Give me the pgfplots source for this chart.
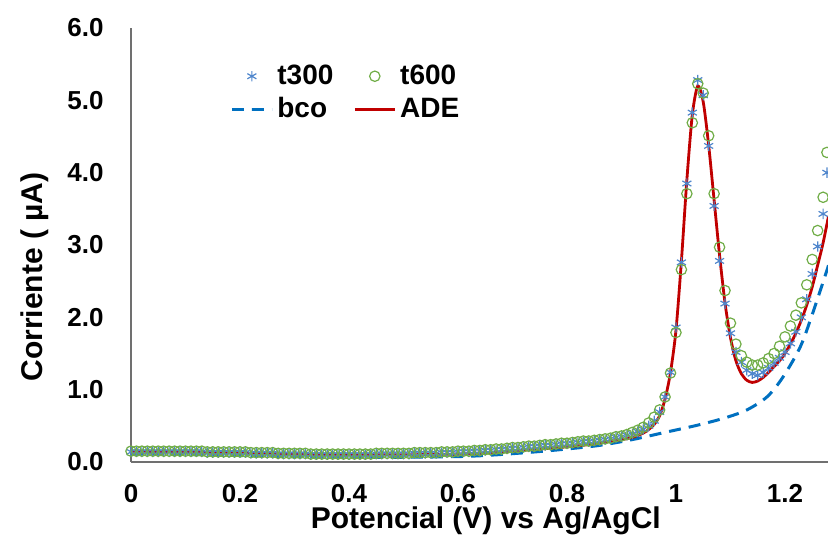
\documentclass[border=0pt]{standalone}
\usepackage{pgfplots}
\usepackage{pgfplotstable}
\pgfplotsset{compat=1.18}
\usepackage{fontspec}
\setmainfont{Liberation Sans}
\definecolor{cT}{HTML}{4F86CC}
\definecolor{cS}{HTML}{70AD47}
\definecolor{cB}{HTML}{0070C0}
\definecolor{cA}{HTML}{C00000}
\definecolor{cAx}{HTML}{707070}

\pgfplotstableread{
x t300 t600
0.00 0.14 0.15
0.01 0.14 0.15
0.02 0.14 0.15
0.03 0.14 0.15
0.04 0.14 0.15
0.05 0.14 0.15
0.06 0.14 0.15
0.07 0.14 0.15
0.08 0.14 0.15
0.09 0.14 0.15
0.10 0.14 0.15
0.11 0.14 0.15
0.12 0.14 0.15
0.13 0.14 0.15
0.14 0.13 0.14
0.15 0.13 0.14
0.16 0.13 0.14
0.17 0.13 0.14
0.18 0.13 0.14
0.19 0.13 0.14
0.20 0.13 0.14
0.21 0.13 0.14
0.22 0.12 0.13
0.23 0.12 0.13
0.24 0.12 0.13
0.25 0.12 0.13
0.26 0.12 0.13
0.27 0.11 0.12
0.28 0.11 0.12
0.29 0.11 0.12
0.30 0.11 0.12
0.31 0.11 0.12
0.32 0.11 0.12
0.33 0.10 0.11
0.34 0.10 0.11
0.35 0.10 0.11
0.36 0.10 0.11
0.37 0.10 0.11
0.38 0.10 0.11
0.39 0.10 0.11
0.40 0.10 0.11
0.41 0.10 0.11
0.42 0.10 0.11
0.43 0.10 0.11
0.44 0.10 0.11
0.45 0.11 0.12
0.46 0.11 0.12
0.47 0.11 0.12
0.48 0.11 0.12
0.49 0.11 0.12
0.50 0.11 0.12
0.51 0.11 0.12
0.52 0.12 0.13
0.53 0.12 0.13
0.54 0.12 0.13
0.55 0.12 0.13
0.56 0.12 0.13
0.57 0.13 0.14
0.58 0.13 0.14
0.59 0.13 0.14
0.60 0.14 0.15
0.61 0.14 0.15
0.62 0.14 0.15
0.63 0.15 0.16
0.64 0.15 0.16
0.65 0.16 0.17
0.66 0.16 0.17
0.67 0.17 0.18
0.68 0.17 0.18
0.69 0.18 0.19
0.70 0.19 0.20
0.71 0.19 0.20
0.72 0.20 0.21
0.73 0.21 0.22
0.74 0.21 0.22
0.75 0.22 0.23
0.76 0.23 0.24
0.77 0.23 0.24
0.78 0.24 0.25
0.79 0.25 0.26
0.80 0.25 0.26
0.81 0.26 0.27
0.82 0.27 0.28
0.83 0.28 0.29
0.84 0.28 0.29
0.85 0.29 0.30
0.86 0.30 0.31
0.87 0.31 0.32
0.88 0.32 0.33
0.89 0.34 0.35
0.90 0.35 0.36
0.91 0.37 0.38
0.92 0.39 0.41
0.93 0.42 0.44
0.94 0.45 0.48
0.95 0.50 0.54
0.96 0.57 0.62
0.97 0.69 0.72
0.98 0.90 0.90
0.99 1.24 1.23
1.00 1.86 1.79
1.01 2.76 2.66
1.02 3.85 3.71
1.03 4.83 4.69
1.04 5.28 5.23
1.05 5.07 5.10
1.06 4.37 4.51
1.07 3.54 3.71
1.08 2.78 2.97
1.09 2.19 2.37
1.10 1.78 1.92
1.11 1.52 1.63
1.12 1.38 1.47
1.13 1.27 1.38
1.14 1.22 1.34
1.15 1.20 1.34
1.16 1.24 1.37
1.17 1.30 1.43
1.18 1.37 1.50
1.19 1.44 1.60
1.20 1.52 1.73
1.21 1.64 1.88
1.22 1.80 2.03
1.23 2.00 2.20
1.24 2.25 2.45
1.25 2.60 2.80
1.26 2.98 3.20
1.27 3.43 3.66
1.277 4.00 4.28
}\markers

\pgfplotstableread{
x y
0.00 0.15
0.10 0.14
0.20 0.125
0.30 0.11
0.40 0.10
0.50 0.10
0.60 0.11
0.65 0.125
0.70 0.15
0.75 0.18
0.80 0.21
0.85 0.25
0.90 0.31
0.92 0.34
0.94 0.40
0.95 0.45
0.96 0.52
0.97 0.64
0.98 0.87
0.99 1.24
1.00 1.82
1.01 2.78
1.02 3.90
1.03 4.80
1.04 5.20
1.05 4.98
1.06 4.38
1.07 3.62
1.08 2.86
1.09 2.20
1.10 1.72
1.11 1.40
1.12 1.22
1.13 1.13
1.14 1.10
1.15 1.12
1.16 1.17
1.17 1.24
1.18 1.32
1.19 1.40
1.20 1.50
1.21 1.63
1.22 1.78
1.23 1.96
1.24 2.17
1.25 2.42
1.26 2.72
1.27 3.03
1.28 3.40
}\ade

\pgfplotstableread{
x y
0.00 0.11
0.10 0.105
0.20 0.09
0.30 0.075
0.40 0.065
0.50 0.065
0.60 0.075
0.65 0.09
0.70 0.115
0.75 0.145
0.80 0.18
0.86 0.23
0.92 0.31
0.98 0.41
1.04 0.51
1.09 0.61
1.13 0.72
1.167 0.90
1.196 1.17
1.228 1.59
1.251 2.06
1.28 2.72
}\bco

\begin{document}
\begin{tikzpicture}
\begin{axis}[
  name=ax,
  scale only axis,
  width=348.5pt, height=217pt,
  xmin=0, xmax=1.279, ymin=0, ymax=6,
  axis x line*=bottom, axis y line*=left,
  axis line style={draw=cAx, line width=0.75pt, -},
  major tick length=0pt,
  xtick={0,0.2,0.4,0.6,0.8,1,1.2},
  xticklabels={0,0.2,0.4,0.6,0.8,1,1.2},
  ytick={0,1,2,3,4,5,6},
  yticklabels={0.0,1.0,2.0,3.0,4.0,5.0,6.0},
  tick label style={font=\fontsize{13}{15}\selectfont\bfseries},
  xticklabel style={inner sep=0pt, anchor=north, yshift=-11pt},
  yticklabel style={inner sep=0pt, anchor=east, xshift=-13.5pt},
  xlabel={Potencial (V) vs Ag/AgCl},
  ylabel={Corriente ( µA)},
  label style={font=\fontsize{15}{18}\selectfont\bfseries},
  xlabel style={at={(axis description cs:0.509,-0.136)}, anchor=center},
  ylabel style={at={(axis description cs:-0.1377,0.426)}, anchor=center},
  legend columns=2,
  legend cell align=left,
  legend style={at={(axis description cs:0.142,0.925)}, anchor=north west,
    draw=none, fill=none, inner sep=0pt,
    font=\fontsize{14}{16}\selectfont\bfseries,
    row sep=1pt,
    /tikz/every even column/.append style={column sep=8pt},
    nodes={inner sep=2pt}},
  legend image code/.code={\draw[mark repeat=2,mark phase=2,#1] plot coordinates {(0pt,0pt) (10pt,0pt) (20pt,0pt)};},
]
\addplot[only marks, mark=asterisk, mark size=2.6pt, draw=cT, mark options={line width=0.6pt}] table[x=x,y=t300] {\markers};
\addlegendentry{t300}
\addplot[only marks, mark=o, mark size=2.6pt, draw=cS, mark options={line width=0.6pt}] table[x=x,y=t600] {\markers};
\addlegendentry{t600}
\addplot[cB, line width=1.5pt, dash pattern=on 6pt off 4pt, smooth, tension=0.5] table {\bco};
\addlegendentry{bco}
\addplot[cA, line width=1.4pt, smooth, tension=0.45] table {\ade};
\addlegendentry{ADE}
\end{axis}
\pgfresetboundingbox
\path[use as bounding box] ([shift={(-65.5pt,-38pt)}]ax.south west) rectangle ([shift={(0pt,231pt)}]ax.south east);
\end{tikzpicture}
\end{document}
